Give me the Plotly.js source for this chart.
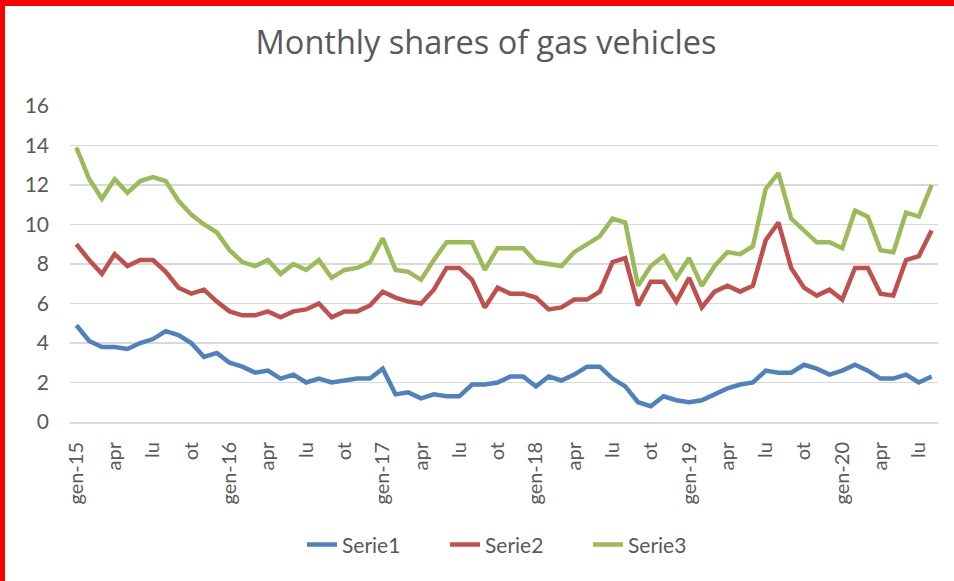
<!DOCTYPE html>
<html>
<head>
<meta charset="utf-8">
<script src="https://cdn.plot.ly/plotly-3.0.1.min.js"></script>
<style>
html,body{margin:0;padding:0;background:#fff;}
#wrap{position:relative;width:954px;height:581px;overflow:hidden;}
#chart{position:absolute;left:0;top:0;width:954px;height:581px;}
#bt{position:absolute;left:0;top:0;width:954px;height:6px;background:#ff0000;}
#bl{position:absolute;left:0;top:0;width:5px;height:581px;background:#ff0000;}
</style>
</head>
<body>
<div id="wrap"><div id="chart"></div><div id="bt"></div><div id="bl"></div></div>
<script>
const monthNames = ["gen","feb","mar","apr","mag","giu","lu","ago","set","ot","nov","dic"];
const years = ["15","16","17","18","19","20"];
const nMonths = 68;

const serie1 = [4.9,4.1,3.8,3.8,3.7,4.0,4.2,4.6,4.4,4.0,3.3,3.5,
                3.0,2.8,2.5,2.6,2.2,2.4,2.0,2.2,2.0,2.1,2.2,2.2,
                2.7,1.4,1.5,1.2,1.4,1.3,1.3,1.9,1.9,2.0,2.3,2.3,
                1.8,2.3,2.1,2.4,2.8,2.8,2.2,1.8,1.0,0.8,1.3,1.1,
                1.0,1.1,1.4,1.7,1.9,2.0,2.6,2.5,2.5,2.9,2.7,2.4,
                2.6,2.9,2.6,2.2,2.2,2.4,2.0,2.3];
const serie2 = [9.0,8.2,7.5,8.5,7.9,8.2,8.2,7.6,6.8,6.5,6.7,6.1,
                5.6,5.4,5.4,5.6,5.3,5.6,5.7,6.0,5.3,5.6,5.6,5.9,
                6.6,6.3,6.1,6.0,6.7,7.8,7.8,7.2,5.8,6.8,6.5,6.5,
                6.3,5.7,5.8,6.2,6.2,6.6,8.1,8.3,5.9,7.1,7.1,6.1,
                7.3,5.8,6.6,6.9,6.6,6.9,9.2,10.1,7.8,6.8,6.4,6.7,
                6.2,7.8,7.8,6.5,6.4,8.2,8.4,9.7];
const serie3 = [13.9,12.3,11.3,12.3,11.6,12.2,12.4,12.2,11.2,10.5,10.0,9.6,
                8.7,8.1,7.9,8.2,7.5,8.0,7.7,8.2,7.3,7.7,7.8,8.1,
                9.3,7.7,7.6,7.2,8.2,9.1,9.1,9.1,7.7,8.8,8.8,8.8,
                8.1,8.0,7.9,8.6,9.0,9.4,10.3,10.1,6.9,7.9,8.4,7.3,
                8.3,6.9,7.9,8.6,8.5,8.9,11.8,12.6,10.3,9.7,9.1,9.1,
                8.8,10.7,10.4,8.7,8.6,10.6,10.4,12.0];
const tickLabels = ["gen-15","apr","lu","ot","gen-16","apr","lu","ot","gen-17","apr","lu","ot",
                    "gen-18","apr","lu","ot","gen-19","apr","lu","ot","gen-20","apr","lu"];

const categories = [];
for (let i = 0; i < nMonths; i++) {
  categories.push(monthNames[i % 12] + "-" + years[Math.floor(i / 12)]);
}
const tickVals = tickLabels.map((_, k) => categories[k * 3]);

const colors = ["#4F81BD", "#C0504D", "#9BBB59"];
const names = ["Serie1", "Serie2", "Serie3"];
const series = [serie1, serie2, serie3];

const traces = series.map((s, k) => ({
  type: "scatter", mode: "lines",
  x: categories, y: s, name: names[k],
  line: {color: colors[k], width: 4.5, shape: "linear"},
  hoverinfo: "x+y+name"
}));

const layout = {
  width: 954, height: 581,
  paper_bgcolor: "#ffffff", plot_bgcolor: "#ffffff",
  font: {family: "Lato, 'Open Sans', sans-serif", color: "#595959", size: 21},
  margin: {l: 70, r: 16, t: 106, b: 159, pad: 0},
  title: {text: "Monthly shares of gas vehicles",
          font: {family: "'Open Sans', Lato, sans-serif", size: 32.5, color: "#595959"},
          x: 486 / 954, xanchor: "center", xref: "container",
          y: 1 - 43 / 581, yanchor: "middle", yref: "container"},
  xaxis: {type: "category", range: [-0.5, nMonths - 0.5], tickmode: "array",
          tickvals: tickVals, ticktext: tickLabels, tickangle: -90,
          showgrid: false, zeroline: false, showline: true, linecolor: "#D9D9D9", linewidth: 2,
          ticks: "", ticklabelstandoff: 10, tickfont: {size: 20, color: "#595959"}, fixedrange: true},
  yaxis: {range: [0, 16], dtick: 2, tick0: 0, showgrid: true, gridcolor: "#D9D9D9", gridwidth: 1.5,
          zeroline: false, showline: false, ticks: "", ticklabelstandoff: 20,
          tickfont: {size: 21, color: "#595959"}, fixedrange: true},
  showlegend: true,
  legend: {orientation: "h", x: (302 - 70) / 868, xanchor: "left", y: -0.389, yanchor: "middle",
           entrywidth: 98, entrywidthmode: "pixels",
           font: {size: 21, color: "#595959"}, bgcolor: "rgba(0,0,0,0)"}
};

Plotly.newPlot("chart", traces, layout, {displayModeBar: false, staticPlot: true});
</script>
</body>
</html>
